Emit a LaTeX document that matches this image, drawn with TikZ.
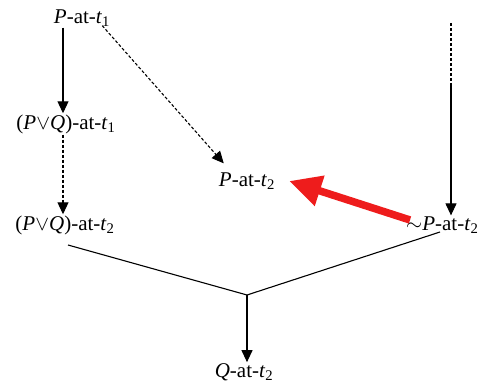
\documentclass[tikz,border=0pt]{standalone}
\usepackage{fontspec}
\setmainfont{Liberation Serif}
\usepackage{xcolor}
\definecolor{ArgRed}{HTML}{EE1C1C}
\usetikzlibrary{arrows.meta,calc,positioning}
\newcommand{\at}[2]{#1-at-\textit{t}\textsubscript{#2}}

\begin{document}
\begin{tikzpicture}[x=1pt,y=-1pt,
    prop/.style={inner sep=1pt,font=\fontsize{21}{24}\selectfont},
    entail/.style={-{Triangle[length=12pt,width=11pt]},line width=1.1pt,color=black},
    defeasible/.style={entail,dash pattern=on 3pt off 2pt},
    conflict/.style={-{Triangle[length=32pt,width=30pt]},line width=7.5pt,color=ArgRed}
  ]
    \useasboundingbox (0,0) rectangle (478,385);
    \node[prop] (pat1) at (82,18) {\at{\textit{P}}{1}};
    \node[prop] (pvqa) at (66,124) {\at{(\textit{P}$\vee$\textit{Q})}{1}};
    \node[prop] (pvqb) at (65,225) {\at{(\textit{P}$\vee$\textit{Q})}{2}};
    \node[prop] (pat2) at (247,181) {\at{\textit{P}}{2}};
    \node[prop,anchor=west] (notp) at (405,225) {$\sim$\at{\textit{P}}{2}};
    \node[prop] (qat2) at (244,372) {\at{\textit{Q}}{2}};
    \coordinate (leftx) at (63,0);
    \coordinate (notpsrc) at (451,23);
    \coordinate (notpbreak) at (451,85);
    \coordinate (fork) at (247,295);
    \coordinate (lfork) at (68,245);
    \coordinate (rfork) at (440,232);

    \draw[entail] (pat1.south -| leftx) -- (pvqa.north -| leftx);
    \draw[defeasible] (pvqa.south -| leftx) -- (pvqb.north -| leftx);
    \draw[defeasible] ($(pat1.south east)+(-9,-2)$) -- ($(pat2.north west)+(6,-8)$);
    \draw[line width=1.1pt,dash pattern=on 3pt off 2pt] (notpsrc) -- (notpbreak);
    \draw[entail] (notpbreak) -- (notp.north -| notpsrc);
    \draw[conflict] ($(notp.west)+(5,-5)$) -- ($(pat2.east)+(13,0)$);
    \draw[line width=1.1pt] (lfork) -- (fork) -- (rfork);
    \draw[entail] (fork) -- (qat2.north -| fork);
  \end{tikzpicture}
\end{document}
